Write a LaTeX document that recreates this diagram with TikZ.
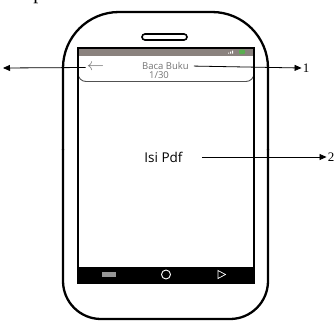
\documentclass[tikz,border=0pt]{standalone}
\usepackage{fontspec}
\setmainfont{Liberation Serif}
\setsansfont{Open Sans}
\usetikzlibrary{arrows.meta}
\definecolor{ColBar}{RGB}{138,130,126}
\definecolor{ColHead}{RGB}{115,115,115}
\definecolor{ColNav}{RGB}{150,150,150}
\definecolor{ColBat}{RGB}{90,175,80}
\tikzstyle{Phone}=[draw=black,line width=2.3pt]
\tikzstyle{Screen}=[draw=black,line width=1.3pt]
\tikzstyle{HeadTxt}=[inner sep=1pt,text=ColHead,font=\sffamily\fontsize{9.5}{10}\selectfont]
\tikzstyle{IsiTxt}=[inner sep=1pt,font=\sffamily\fontsize{13.5}{14}\selectfont]
\tikzstyle{LblTxt}=[inner sep=1pt,font=\fontsize{13}{14}\selectfont]
\tikzstyle{Panah}=[black,line width=0.8pt,-{Triangle[length=7pt,width=6pt]}]

\begin{document}
\begin{tikzpicture}[x=1pt,y=-1pt]
        \useasboundingbox(0,0)rectangle(335,322);
        % cut caption above the picture
        \node[anchor=base west,inner sep=0pt,font=\fontsize{20}{22}\selectfont](cap)at(-2,-0.5){Tampilan Baca Buku.};
        % phone body
        \draw[Phone](63,150)[rounded corners=56pt]--(63,12)--(268,12)--(268,150);
        \draw[Phone](268,149)[rounded corners=38pt]--(268,319)--(63,319)--(63,149);
        \draw[Phone,line width=1.6pt,rounded corners=3pt](142,34)rectangle(187,40);
        % screen
        \fill[ColBar](78,48)rectangle(254,55.5);
        \fill[white](228,52.5)rectangle(229,53.5)(230,51.5)rectangle(231,53.5)(232,50.5)rectangle(233,53.5);
        \fill[ColBat,rounded corners=1pt](239,49.5)rectangle(245,54);
        \draw[ColHead!70!black,line width=0.9pt,rounded corners=8pt](78,55)--(78,81.5)--(254,81.5)--(254,55);
        \fill[black](78,267)rectangle(254,283);
        \draw[Screen](78,48)rectangle(254,283);
        \fill[ColNav](102,272)rectangle(116,277);
        \draw[white,line width=0.9pt](166,274.5)circle(4.5);
        \draw[white,line width=0.7pt](218,270.5)--(225.5,274.5)--(218,278.5)--cycle;
        % header texts
        \node[HeadTxt](judul)at(165.5,66){Baca Buku};
        \node[HeadTxt](hal)at(159,75){1/30};
        \node[HeadTxt,font=\fontsize{16}{16}\selectfont](kembali)at(95.5,67.5){$\leftarrow$};
        \node[IsiTxt](isi)at(163.5,157){Isi Pdf};
        % labels
        \coordinate(kiri)at(3,68);
        \node[LblTxt](satu)at(306,68){1};
        \node[LblTxt](dua)at(331,157){2};
        \draw[Panah](kembali.west)--(kiri);
        \draw[Panah,shorten <=4pt](judul.east)--(satu.west);
        \draw[Panah,shorten <=18pt](isi.east)--(dua.west);
\end{tikzpicture}
\end{document}
